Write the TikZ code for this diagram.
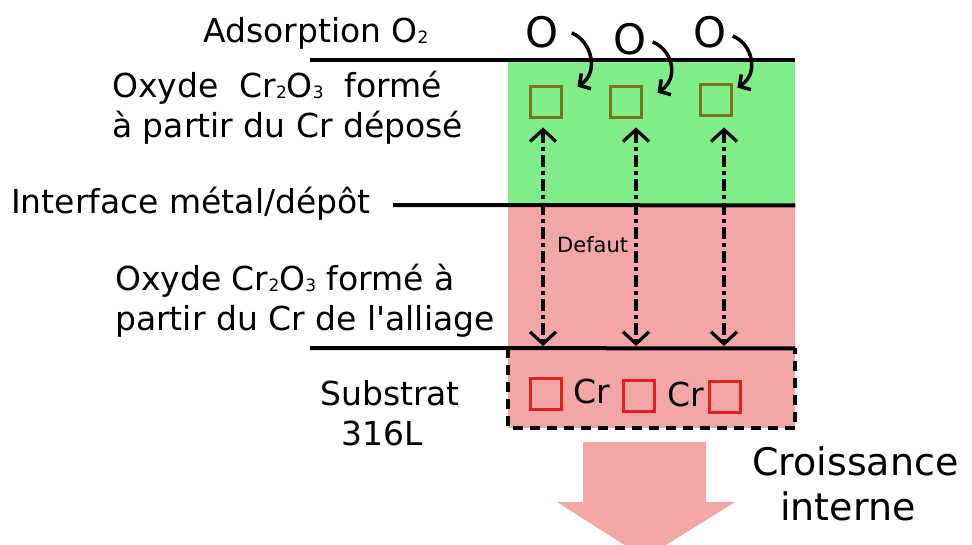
\documentclass[tikz,border=0pt]{standalone}
\usepackage{fontspec}
\setmainfont{DejaVu Sans}
\usetikzlibrary{arrows.meta,positioning,calc}
\definecolor{depotgreen}{RGB}{128,238,136}
\definecolor{alliagepink}{RGB}{242,166,166}
\definecolor{oxolive}{RGB}{122,116,30}
\definecolor{crred}{RGB}{226,32,36}
\newcommand\chsub[1]{{\fontsize{17}{17}\selectfont\raisebox{-1pt}{#1}}}
\tikzset{
  txt/.style    = {font=\fontsize{33}{40}\selectfont, inner sep=0pt,
                   align=left, anchor=base west},
  layer/.style  = {rectangle, draw=none, anchor=north west,
                   minimum width=287, inner sep=0pt},
  surf/.style   = {line width=4pt, draw=black},
  oxsq/.style   = {rectangle, draw=oxolive, line width=3.8pt,
                   minimum size=31, inner sep=0pt},
  crsq/.style   = {rectangle, draw=crred, line width=3.8pt,
                   minimum size=31, inner sep=0pt},
  oatom/.style  = {font=\fontsize{42}{42}\selectfont, inner sep=0pt},
  oarr/.style   = {-{Straight Barb[length=8pt, width=18pt]}, line width=3.5pt},
  defarr/.style = {{Straight Barb[length=12pt, width=26pt]}-{Straight Barb[length=12pt, width=26pt]},
                   line width=3.2pt, dash pattern=on 12pt off 4pt on 4pt off 4pt},
}

\begin{document}
\begin{tikzpicture}[x=1pt, y=-1pt]
\useasboundingbox (0,0) rectangle (972,544);

%% Layers
\node[layer, fill=depotgreen, minimum height=145] (depot) at (508,60) {};
\node[layer, fill=alliagepink, minimum height=143] (alliage) at (508,205) {};
\node[layer, fill=alliagepink, minimum height=80] (substrat) at (508,348) {};
\draw[line width=4pt, dash pattern=on 10pt off 7pt]
  (substrat.north west) -- (substrat.south west) -- (substrat.south east) -- (substrat.north east);

%% Surfaces
\coordinate (surfL) at (310,60);
\coordinate (interL) at (393,205);
\coordinate (allL) at (310,348);
\draw[surf] (surfL) -- (depot.north east);
\draw[surf] (interL) -- (depot.south east);
\draw[surf] (allL) -- (alliage.south east);

%% Labels (base = last line)
\node[txt] (adsorp) at (203,42) {Adsorption O\chsub{2}};
\node[txt] (oxdep) at (112,137) {Oxyde\ \ Cr\chsub{2}O\chsub{3}\ \ formé\\à partir du Cr déposé};
\node[txt] (interf) at (11,213) {Interface métal/dépôt};
\node[txt] (oxall) at (115,330) {Oxyde Cr\chsub{2}O\chsub{3} formé à\\partir du Cr de l\textquotesingle alliage};
\node[txt] (subst) at (320,445) {Substrat\\\ \ 316L};
\node[txt, font=\fontsize{38}{45}\selectfont] (croiss) at (752,520) {Croissance\\\hspace*{28pt}interne};
\node[txt, font=\fontsize{21}{24}\selectfont] (defaut) at (557,252) {Defaut};

%% Oxygen and oxide sites
\node[oatom] (o1) at (542,32) {O};
\node[oatom] (o2) at (630,39) {O};
\node[oatom] (o3) at (710,32) {O};
\node[oxsq] (ox1) at (546,102) {};
\node[oxsq] (ox2) at (626,102) {};
\node[oxsq] (ox3) at (716,100) {};

\draw[oarr] ([shift={(13,1)}]o1.east) .. controls +(20,8) and +(22,-14) .. ([shift={(14,2)}]ox1.north east);
\draw[oarr] ([shift={(6,3)}]o2.east) .. controls +(20,8) and +(22,-14) .. ([shift={(14,8)}]ox2.north east);
\draw[oarr] ([shift={(6,4)}]o3.east) .. controls +(20,8) and +(22,-14) .. ([shift={(4,5)}]ox3.north east);

%% Substrate Cr
\node[crsq] (cr1) at (546,394) {};
\node[crsq] (cr2) at (639,396) {};
\node[crsq] (cr3) at (725,397) {};
\node[txt] (crl1) at (573,403) {Cr};
\node[txt] (crl2) at (667,406) {Cr};

%% Defects
\coordinate (d1) at ($(ox1.south)+(-3,8)$);
\coordinate (d2) at ($(ox2.south)+(10,8)$);
\coordinate (d3) at ($(ox3.south)+(8,10)$);
\draw[defarr] (d1) -- ([yshift=2pt]d1 |- substrat.north);
\draw[defarr] (d2) -- ([yshift=2pt]d2 |- substrat.north);
\draw[defarr] (d3) -- ([yshift=2pt]d3 |- substrat.north);

%% Internal growth
\fill[alliagepink] (583,442) -- (706,442) -- (706,502) -- (735,502)
  -- (645,558) -- (557,502) -- (583,502) -- cycle;

\end{tikzpicture}
\end{document}
